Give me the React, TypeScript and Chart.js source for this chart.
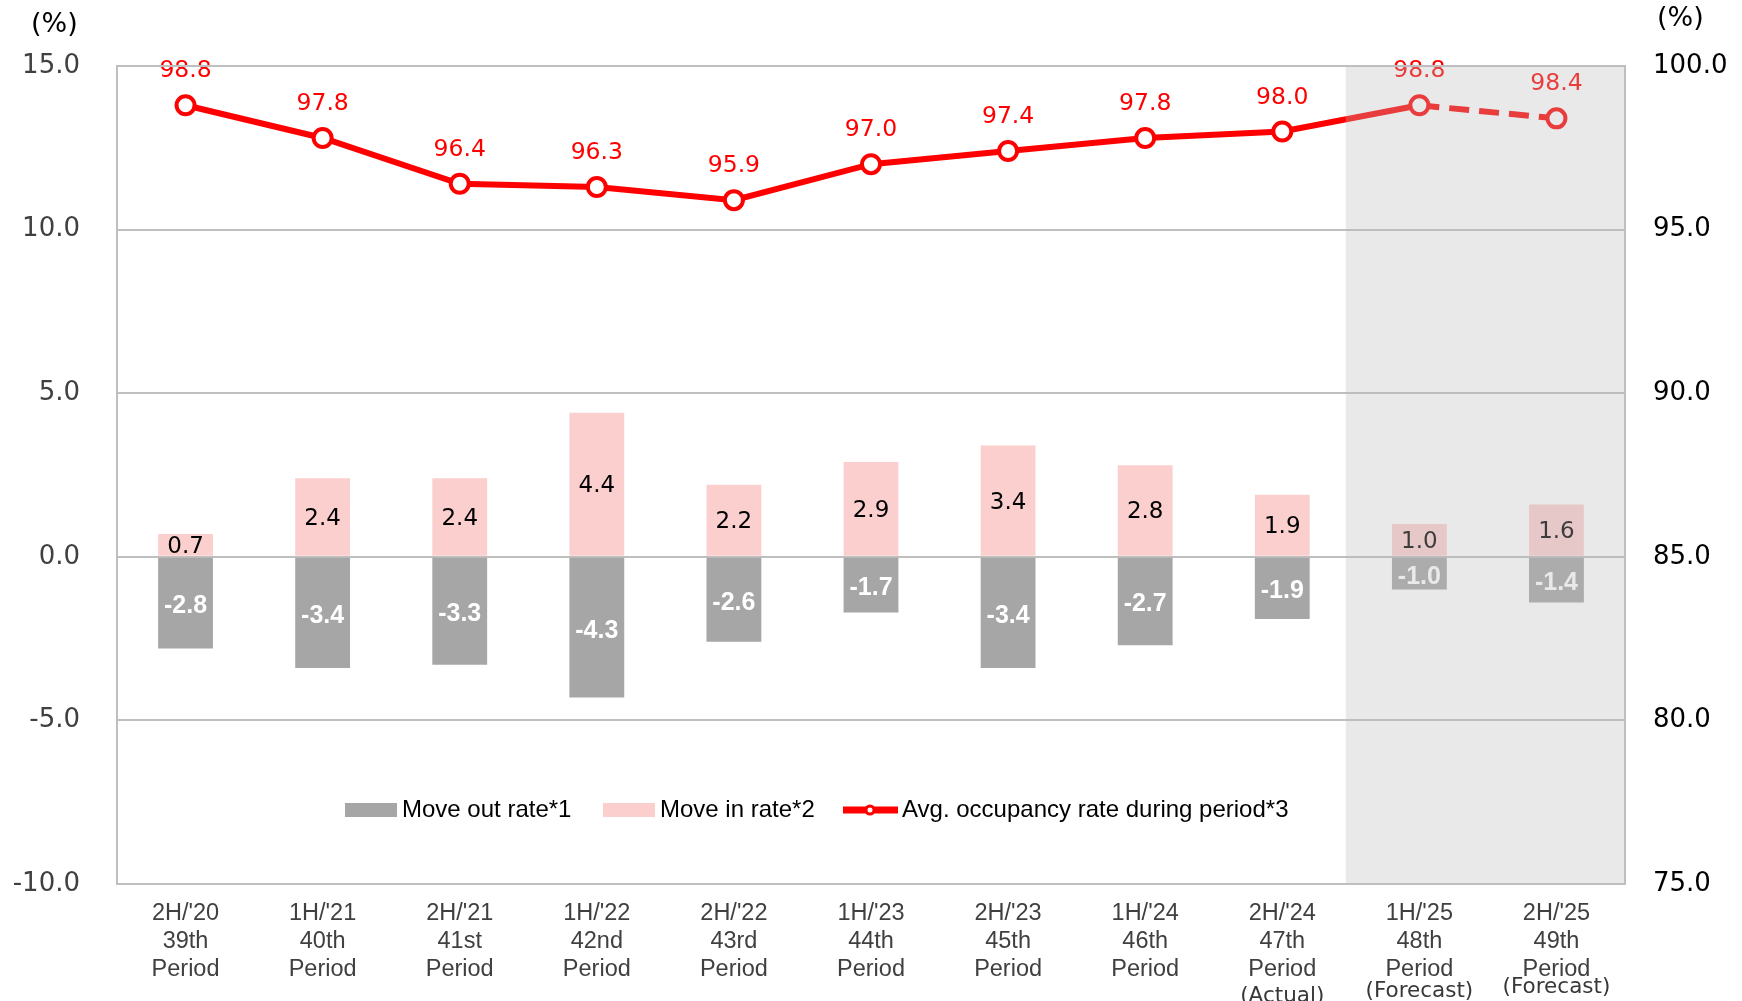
import React, { useEffect, useRef } from "react";
import { Chart, registerables } from "chart.js";

Chart.register(...registerables);

const periodLabels: string[][] = [
  ["2H/'20", "39th", "Period"],
  ["1H/'21", "40th", "Period"],
  ["2H/'21", "41st", "Period"],
  ["1H/'22", "42nd", "Period"],
  ["2H/'22", "43rd", "Period"],
  ["1H/'23", "44th", "Period"],
  ["2H/'23", "45th", "Period"],
  ["1H/'24", "46th", "Period"],
  ["2H/'24", "47th", "Period"],
  ["1H/'25", "48th", "Period"],
  ["2H/'25", "49th", "Period"],
];
const periodNotes: string[] = ["", "", "", "", "", "", "", "", "(Actual)", "(Forecast)", "(Forecast)"];

const moveOutRate: number[] = [-2.8, -3.4, -3.3, -4.3, -2.6, -1.7, -3.4, -2.7, -1.9, -1.0, -1.4];
const moveInRate: number[] = [0.7, 2.4, 2.4, 4.4, 2.2, 2.9, 3.4, 2.8, 1.9, 1.0, 1.6];
const occupancyRate: number[] = [98.8, 97.8, 96.4, 96.3, 95.9, 97.0, 97.4, 97.8, 98.0, 98.8, 98.4];

const legendNames: string[] = ["Move out rate*1", "Move in rate*2", "Avg. occupancy rate during period*3"];
const firstForecastIndex = 9;

const GRAY = "#a6a6a6";
const PINK = "#fccfcf";
const RED = "#ff0000";
const GRID = "#bfbfbf";

const W = 1742;
const H = 1001;

const decorPlugin = {
  id: "decor",
  afterDatasetsDraw(chart: any) {
    const ctx = chart.ctx;
    const area = chart.chartArea;
    ctx.save();
    ctx.textAlign = "center";
    ctx.textBaseline = "middle";
    const outMeta = chart.getDatasetMeta(0);
    const inMeta = chart.getDatasetMeta(1);
    const lineMeta = chart.getDatasetMeta(2);
    inMeta.data.forEach((bar: any, i: number) => {
      ctx.font = "23px 'DejaVu Sans'";
      ctx.fillStyle = "#000";
      ctx.fillText(moveInRate[i].toFixed(1), bar.x, (bar.y + bar.base) / 2 + 2);
    });
    outMeta.data.forEach((bar: any, i: number) => {
      ctx.font = "bold 25px 'Liberation Sans'";
      ctx.fillStyle = "#fff";
      ctx.fillText(moveOutRate[i].toFixed(1), bar.x, (bar.y + bar.base) / 2 + 3);
    });
    lineMeta.data.forEach((pt: any, i: number) => {
      ctx.font = "23.5px 'DejaVu Sans'";
      ctx.fillStyle = RED;
      ctx.fillText(occupancyRate[i].toFixed(1), pt.x, pt.y - 34);
    });
    const x0 =
      (chart.scales.x.getPixelForValue(firstForecastIndex - 1) + chart.scales.x.getPixelForValue(firstForecastIndex)) / 2 - 5;
    ctx.fillStyle = "rgba(187,187,187,0.32)";
    ctx.fillRect(x0, area.top, area.right - x0, area.bottom - area.top);
    ctx.strokeStyle = GRID;
    ctx.lineWidth = 2;
    ctx.strokeRect(area.left, area.top, area.right - area.left, area.bottom - area.top);
    ctx.restore();
  },
  afterDraw(chart: any) {
    const ctx = chart.ctx;
    ctx.save();
    ctx.font = "27px 'DejaVu Sans'";
    ctx.fillStyle = "#000";
    ctx.textBaseline = "middle";
    ctx.textAlign = "left";
    ctx.fillText("(%)", 31, 25);
    ctx.fillText("(%)", 1657, 19);
    ctx.font = "21.5px 'DejaVu Sans'";
    ctx.fillStyle = "#383838";
    ctx.textAlign = "center";
    const noteY = [0, 0, 0, 0, 0, 0, 0, 0, 996, 991, 987];
    periodNotes.forEach((t, i) => {
      if (!t) return;
      ctx.fillText(t, chart.scales.x.getPixelForValue(i), noteY[i]);
    });
    const ly = 810;
    ctx.font = "24px 'Liberation Sans'";
    ctx.fillStyle = GRAY;
    ctx.fillRect(345, ly - 7, 52, 14);
    ctx.fillStyle = "#000";
    ctx.textAlign = "left";
    ctx.fillText(legendNames[0], 402, ly);
    ctx.fillStyle = PINK;
    ctx.fillRect(603, ly - 7, 52, 14);
    ctx.fillStyle = "#000";
    ctx.fillText(legendNames[1], 660, ly);
    ctx.strokeStyle = RED;
    ctx.lineWidth = 7;
    ctx.beginPath();
    ctx.moveTo(843, ly);
    ctx.lineTo(898, ly);
    ctx.stroke();
    ctx.beginPath();
    ctx.arc(870, ly, 4, 0, Math.PI * 2);
    ctx.fillStyle = "#fff";
    ctx.fill();
    ctx.lineWidth = 3;
    ctx.stroke();
    ctx.fillStyle = "#000";
    ctx.fillText(legendNames[2], 902, ly);
    ctx.restore();
  },
};

export default function App() {
  const ref = useRef<HTMLCanvasElement | null>(null);
  useEffect(() => {
    document.body.style.margin = "0";
    if (!ref.current) return;
    const chart = new Chart(ref.current, {
      type: "bar",
      data: {
        labels: periodLabels,
        datasets: [
          {
            type: "bar",
            label: legendNames[0],
            data: moveOutRate,
            backgroundColor: GRAY,
            yAxisID: "y",
            stack: "s",
            order: 2,
            barPercentage: 0.4,
            categoryPercentage: 1,
          },
          {
            type: "bar",
            label: legendNames[1],
            data: moveInRate,
            backgroundColor: PINK,
            yAxisID: "y",
            stack: "s",
            order: 2,
            barPercentage: 0.4,
            categoryPercentage: 1,
          },
          {
            type: "line",
            label: legendNames[2],
            data: occupancyRate,
            yAxisID: "y2",
            borderColor: RED,
            borderWidth: 6,
            pointRadius: 9,
            pointBorderWidth: 4,
            pointBackgroundColor: "#fff",
            pointBorderColor: RED,
            tension: 0,
            order: 0,
            segment: {
              borderDash: (c: any) => (c.p0DataIndex >= firstForecastIndex ? [20, 10] : undefined),
            },
          } as any,
        ],
      },
      options: {
        responsive: false,
        animation: false,
        devicePixelRatio: 1,
        layout: { padding: { top: 66, left: 0, right: 0, bottom: 0 } },
        plugins: { legend: { display: false }, tooltip: { enabled: false } },
        scales: {
          x: {
            stacked: true,
            grid: { display: false, drawTicks: false },
            border: { display: false },
            ticks: {
              font: { family: "'Liberation Sans'", size: 23.5 },
              color: "#404040",
              padding: 15,
              maxRotation: 0,
              autoSkip: false,
            },
            afterFit: (s: any) => {
              s.height = H - 884;
            },
          },
          y: {
            stacked: true,
            position: "left",
            min: -10,
            max: 15,
            ticks: {
              stepSize: 5,
              font: { family: "'DejaVu Sans'", size: 26 },
              color: "#404040",
              padding: 37,
              callback: (v: any) => Number(v).toFixed(1),
            },
            grid: { color: GRID, lineWidth: 2, drawTicks: false },
            border: { display: false },
            afterFit: (s: any) => {
              s.width = 117;
            },
          },
          y2: {
            position: "right",
            min: 75,
            max: 100,
            ticks: {
              stepSize: 5,
              font: { family: "'DejaVu Sans'", size: 26 },
              color: "#000",
              padding: 28,
              callback: (v: any) => Number(v).toFixed(1),
            },
            grid: { display: false, drawTicks: false },
            border: { display: false },
            afterFit: (s: any) => {
              s.width = W - 1625;
            },
          },
        },
      },
      plugins: [decorPlugin],
    } as any);
    return () => chart.destroy();
  }, []);
  return (
    <div style={{ position: "fixed", left: 0, top: 0, width: W, height: H, background: "#fff" }}>
      <canvas ref={ref} width={W} height={H} style={{ display: "block", width: W, height: H }} />
    </div>
  );
}
